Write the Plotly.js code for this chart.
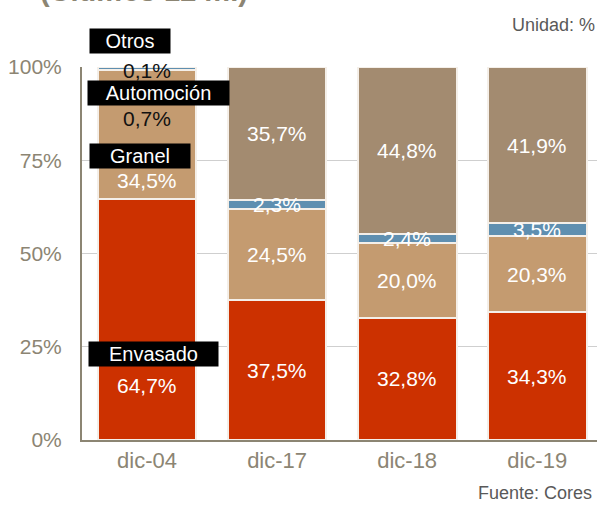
<!DOCTYPE html>
<html>
<head>
<meta charset="utf-8">
<script src="https://cdn.plot.ly/plotly-3.0.1.min.js"></script>
<style>html,body{margin:0;padding:0;background:#fff}#chart{width:597px;height:507px}</style>
</head>
<body>
<div id="chart"></div>
<script>
const categories = ['dic-04', 'dic-17', 'dic-18', 'dic-19'];
const envasado   = [64.7, 37.5, 32.8, 34.3];
const granel     = [34.5, 24.5, 20.0, 20.3];
const automocion = [0.7, 2.3, 2.4, 3.5];
const otros      = [0.1, 35.7, 44.8, 41.9];
const seriesNames = ['Envasado', 'Granel', 'Automoción', 'Otros'];
const yTicks = [0, 25, 50, 75, 100];
const yTickText = ['0%', '25%', '50%', '75%', '100%'];

const colors = ['#cc3100', '#c49b70', '#5f8fb0', '#a38b70'];
const allSeries = [envasado, granel, automocion, otros];
const FONT = 'Liberation Sans, Arial, sans-serif';

const fmt = v => v.toFixed(1).replace('.', ',') + '%';

const traces = allSeries.map((vals, i) => ({
  type: 'bar',
  name: seriesNames[i],
  x: categories,
  y: vals,
  width: 0.76,
  marker: {color: colors[i], line: {color: '#f4efe9', width: 2}},
  hoverinfo: 'skip'
}));

// plot area in pixels
const L = 82, R = 597, T = 67, B = 440;
const px = x => (x - L) / (R - L);
const py = y => (B - y) / (B - T);

const annotations = [];
// value labels for bars 1..3 centered in segments
for (let c = 1; c < categories.length; c++) {
  let base = 0;
  allSeries.forEach((vals, i) => {
    annotations.push({
      x: categories[c], y: base + vals[c] / 2, xref: 'x', yref: 'y',
      xanchor: 'center', yanchor: 'middle',
      text: fmt(vals[c]), showarrow: false,
      font: {family: FONT, size: 21, color: '#ffffff'}
    });
    base += vals[c];
  });
}
// dic-04 labels (legend style)
const firstLabelY = [385, 180, 118, 70];
const firstLabelColor = ['#ffffff', '#ffffff', '#111111', '#111111'];
allSeries.forEach((vals, i) => {
  annotations.push({
    x: categories[0], y: py(firstLabelY[i]), xref: 'x', yref: 'paper',
    xanchor: 'center', yanchor: 'middle',
    text: fmt(vals[0]), showarrow: false,
    font: {family: FONT, size: 21, color: firstLabelColor[i]}
  });
});
// black name boxes
const boxY = [354, 156, 93, 41];
const boxX = [153.5, 140, 158.5, 130];
const boxW = [127, 98, 139, 78];
seriesNames.forEach((n, i) => {
  annotations.push({
    x: px(boxX[i]), y: py(boxY[i]), xref: 'paper', yref: 'paper',
    xanchor: 'center', yanchor: 'middle',
    text: n, showarrow: false, bgcolor: '#000000', width: boxW[i], height: 22,
    borderpad: 1, align: 'center',
    font: {family: FONT, size: 20, color: '#ffffff'}
  });
});
// title (cut off at top as in the reference)
annotations.push({
  x: px(144), y: py(9), xref: 'paper', yref: 'paper', text: '<b>(Últimos 12 m.)</b>', showarrow: false,
  font: {family: FONT, size: 29, color: '#8c8573'},
  xanchor: 'center', yanchor: 'bottom'
});
annotations.push({
  x: px(597), y: py(25), xref: 'paper', yref: 'paper', text: 'Unidad: %', showarrow: false,
  font: {family: FONT, size: 18, color: '#595959'},
  xanchor: 'right', yanchor: 'middle'
});
annotations.push({
  x: px(594), y: py(493), xref: 'paper', yref: 'paper', text: 'Fuente: Cores', showarrow: false,
  font: {family: FONT, size: 18, color: '#595959'},
  xanchor: 'right', yanchor: 'middle'
});

const layout = {
  width: 597, height: 507,
  margin: {l: L, r: 597 - R, t: T, b: 507 - B, pad: 0},
  barmode: 'stack',
  showlegend: false,
  paper_bgcolor: '#ffffff', plot_bgcolor: '#ffffff',
  font: {family: FONT},
  xaxis: {
    type: 'category', range: [-0.5, 3.46], showgrid: false,
    showline: true, linecolor: '#8c8573', linewidth: 2,
    ticks: '', tickfont: {size: 22, color: '#8c8573'}, fixedrange: true
  },
  yaxis: {
    range: [0, 100], tickvals: yTicks, ticktext: yTickText,
    showgrid: true, gridcolor: '#cfcfcf', gridwidth: 1, zeroline: false,
    showline: true, linecolor: '#8c8573', linewidth: 2,
    ticks: '', ticklabelstandoff: 14, tickfont: {size: 21, color: '#8c8573'}, fixedrange: true
  },
  annotations: annotations
};

Plotly.newPlot('chart', traces, layout, {displayModeBar: false, staticPlot: true});
</script>
</body>
</html>
